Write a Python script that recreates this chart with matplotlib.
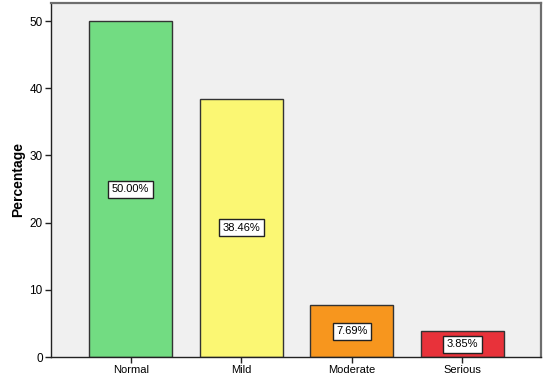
import matplotlib

matplotlib.use("Agg")
import matplotlib.pyplot as plt

plt.rcParams["font.family"] = ["Liberation Sans", "DejaVu Sans"]

CATEGORIES = ["Normal", "Mild", "Moderate", "Serious"]
PERCENTAGES = [50.00, 38.46, 7.69, 3.85]
COLORS = ["#72dc82", "#fbf773", "#f7961e", "#e8323a"]
Y_TICKS = [0, 10, 20, 30, 40, 50]


def main() -> None:
    fig = plt.figure(figsize=(5.46, 3.82), dpi=100)
    ax = fig.add_axes([51 / 546, 25 / 382, 490 / 546, 354 / 382])
    ax.set_facecolor("#f0f0f0")

    x_positions = list(range(len(CATEGORIES)))
    ax.bar(
        x_positions,
        PERCENTAGES,
        width=0.75,
        color=COLORS,
        edgecolor="#333333",
        linewidth=1.0,
        zorder=2,
    )

    for x, value in zip(x_positions, PERCENTAGES):
        ax.text(
            x,
            value / 2,
            f"{value:.2f}%",
            ha="center",
            va="center",
            fontsize=8,
            zorder=3,
            bbox=dict(boxstyle="square,pad=0.32", facecolor="white", edgecolor="#222222", linewidth=1.0),
        )

    ax.set_xlim(-0.72, 3.71)
    ax.set_ylim(0, 52.7)
    ax.set_xticks(x_positions)
    ax.set_xticklabels(CATEGORIES, fontsize=8)
    ax.set_yticks(Y_TICKS)
    ax.set_yticklabels([str(t) for t in Y_TICKS], fontsize=8.5)
    ax.tick_params(axis="both", direction="out", length=4, width=1, color="#222222", pad=2)
    ax.set_ylabel("Percentage", fontsize=10, fontweight="bold", labelpad=3)

    for side in ("left", "bottom"):
        ax.spines[side].set_color("#222222")
        ax.spines[side].set_linewidth(1.0)
    for side in ("top", "right"):
        ax.spines[side].set_color("#6e6e6e")
        ax.spines[side].set_linewidth(1.6)

    fig.savefig("out.png", dpi=100)
    plt.close(fig)


if __name__ == "__main__":
    main()
